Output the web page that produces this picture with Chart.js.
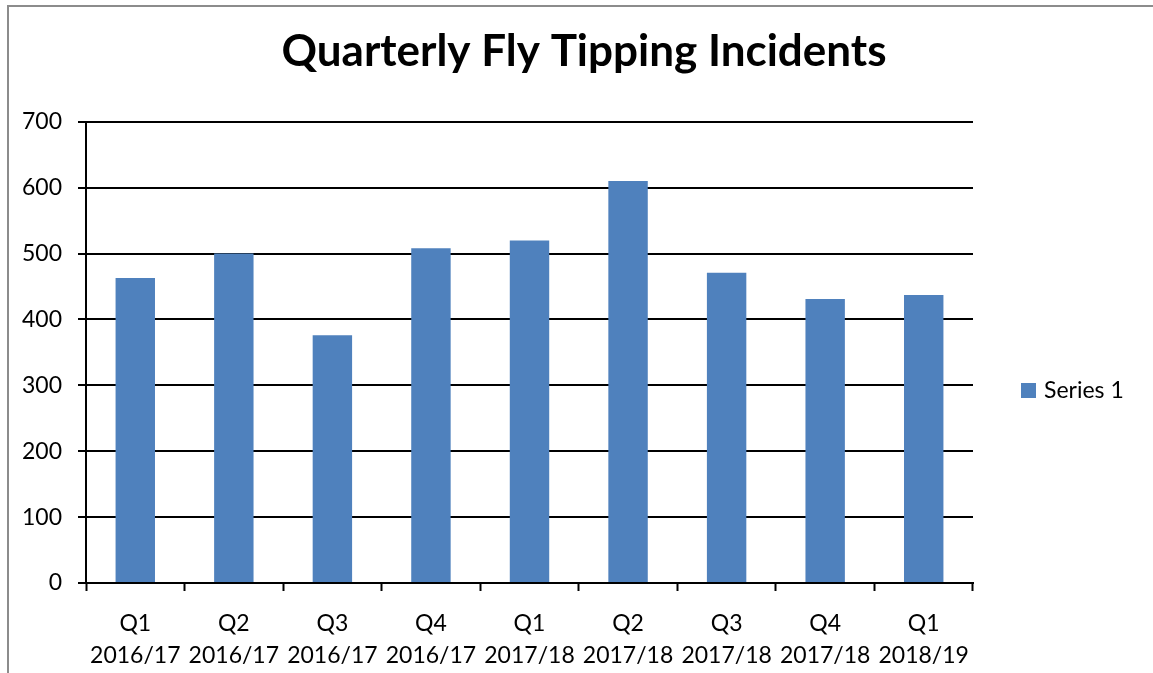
<!DOCTYPE html>
<html>
<head>
<meta charset="utf-8">
<title>Quarterly Fly Tipping Incidents</title>
<script src="https://cdn.jsdelivr.net/npm/chart.js@4/dist/chart.umd.min.js"></script>
<style>
    html, body { margin: 0; padding: 0; background: #fff; }
    #wrap { width: 1153px; height: 673px; position: relative; }
</style>
</head>
<body>
<div id="wrap"><canvas id="flyChart"></canvas></div>
<script>
// Chart data
const quarters = [
    ['Q1', '2016/17'], ['Q2', '2016/17'], ['Q3', '2016/17'], ['Q4', '2016/17'],
    ['Q1', '2017/18'], ['Q2', '2017/18'], ['Q3', '2017/18'], ['Q4', '2017/18'],
    ['Q1', '2018/19']
];
const incidents = [463, 500, 376, 508, 520, 610, 471, 431, 437];
const seriesName = 'Series 1';
const chartTitle = 'Quarterly Fly Tipping Incidents';

const FONT = 'Lato, "Open Sans", sans-serif';
const barColor = '#4F81BD';

// Frame around the chart and the legend on the right
const framePlugin = {
    id: 'frame',
    beforeDraw(chart) {
        const ctx = chart.ctx;
        ctx.save();
        ctx.fillStyle = '#fff';
        ctx.fillRect(0, 0, chart.width, chart.height);
        ctx.strokeStyle = '#8c8c8c';
        ctx.lineWidth = 2;
        ctx.beginPath();
        ctx.moveTo(8, chart.height);
        ctx.lineTo(8, 6);
        ctx.lineTo(chart.width, 6);
        ctx.stroke();
        ctx.restore();
    },
    afterDraw(chart) {
        const ctx = chart.ctx;
        const ds = chart.data.datasets[0];
        const x = chart.chartArea.right + 48;
        const y = 390;
        ctx.save();
        ctx.fillStyle = ds.backgroundColor;
        ctx.fillRect(x, y - 7, 15, 15);
        ctx.fillStyle = '#000';
        ctx.font = '23px ' + FONT;
        ctx.textBaseline = 'middle';
        ctx.fillText(ds.label, x + 23, y + 1);
        ctx.restore();
    }
};

const ctx = document.getElementById('flyChart');
new Chart(ctx, {
    type: 'bar',
    data: {
        labels: quarters,
        datasets: [{
            label: seriesName,
            data: incidents,
            backgroundColor: barColor,
            borderWidth: 0,
            barPercentage: 0.4,
            categoryPercentage: 1
        }]
    },
    options: {
        responsive: true,
        maintainAspectRatio: false,
        animation: false,
        layout: {
            padding: { left: 15, right: 0, top: 0, bottom: 0 }
        },
        plugins: {
            legend: { display: false },
            tooltip: { enabled: false },
            title: {
                display: true,
                text: chartTitle,
                color: '#000',
                font: { family: FONT, size: 44, weight: 'bold', lineHeight: 1.2 },
                padding: { top: 25, bottom: 44 }
            }
        },
        scales: {
            x: {
                offset: true,
                grid: {
                    offset: true,
                    drawOnChartArea: false,
                    drawTicks: true,
                    tickLength: 8,
                    tickWidth: 2,
                    tickColor: '#000'
                },
                border: { color: '#000', width: 2 },
                ticks: {
                    color: '#000',
                    font: { family: FONT, size: 23, lineHeight: 1.4 },
                    padding: 16,
                    maxRotation: 0,
                    autoSkip: false
                },
                afterFit(scale) { scale.height = 90; }
            },
            y: {
                min: 0,
                max: 700,
                grid: {
                    color: '#000',
                    lineWidth: 2,
                    tickLength: 8
                },
                border: { color: '#000', width: 2 },
                ticks: {
                    stepSize: 100,
                    color: '#000',
                    font: { family: FONT, size: 23 },
                    padding: 16
                },
                afterFit(scale) { scale.width = 71; }
            },
            // empty space on the right that holds the legend
            legendSpace: {
                type: 'linear',
                position: 'right',
                display: true,
                grid: { display: false, drawTicks: false },
                border: { display: false },
                ticks: { display: false },
                afterFit(scale) { scale.width = 180; }
            }
        }
    },
    plugins: [framePlugin]
});
</script>
</body>
</html>
